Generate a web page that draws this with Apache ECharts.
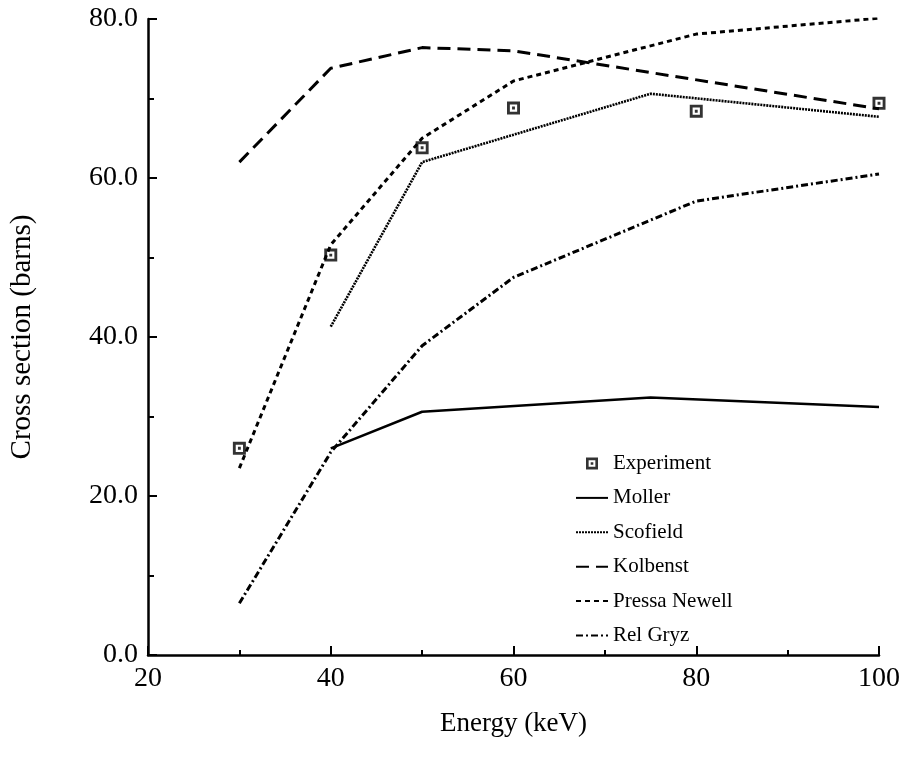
<!DOCTYPE html>
<html>
<head>
<meta charset="utf-8">
<script src="https://cdn.jsdelivr.net/npm/echarts@6/dist/echarts.min.js"></script>
<style>
  html, body { margin: 0; padding: 0; background: #fff; }
  #chart { width: 903px; height: 760px; }
</style>
</head>
<body>
<div id="chart"></div>
<script>
// data: [energy keV, cross section barns]
var experiment = [[30, 26.0], [40, 50.3], [50, 63.8], [60, 68.8], [80, 68.4], [100, 69.4]];
var moller = [[40, 26.0], [50, 30.6], [75, 32.4], [100, 31.2]];
var scofield = [[40, 41.3], [50, 62.0], [75, 70.6], [100, 67.7]];
var kolbenst = [[30, 62.0], [40, 73.8], [50, 76.4], [60, 76.0], [100, 68.7]];
var pressaNewell = [[30, 23.5], [40, 51.6], [50, 65.0], [60, 72.2], [80, 78.1], [100, 80.1]];
var relGryz = [[30, 6.5], [40, 25.5], [50, 38.9], [60, 47.5], [80, 57.1], [100, 60.5]];

var serif = '"Liberation Serif", "DejaVu Serif", serif';

var myChart = echarts.init(document.getElementById('chart'));

// square with a hole and a dot in the middle
var boxDot = 'path://M0,0 L10,0 L10,10 L0,10 Z M2.2,2.2 L2.2,7.8 L7.8,7.8 L7.8,2.2 Z M3.9,3.9 L6.1,3.9 L6.1,6.1 L3.9,6.1 Z';

function lineSeries(name, data, type, width) {
    return {
        name: name,
        type: 'line',
        data: data,
        symbol: 'none',
        lineStyle: { color: '#000', width: width, type: type },
        itemStyle: { color: '#000' },
        z: 2
    };
}

// legend entry for a line: hide the symbol, keep the line sample
function lineLegend(name) {
    return { name: name, itemStyle: { color: 'rgba(0,0,0,0)', borderColor: 'rgba(0,0,0,0)', borderWidth: 0 } };
}

var option = {
    animation: false,
    backgroundColor: '#fff',
    textStyle: { fontFamily: serif, color: '#000' },
    grid: { left: 147, right: 23, top: 19, bottom: 105 },
    legend: {
        orient: 'vertical',
        left: 570,
        top: 448,
        itemWidth: 32,
        itemHeight: 12,
        itemGap: 13.4,
        textStyle: { fontFamily: serif, fontSize: 21, color: '#000' },
        data: [
            { name: 'Experiment' },
            lineLegend('Moller'),
            lineLegend('Scofield'),
            lineLegend('Kolbenst'),
            lineLegend('Pressa Newell'),
            lineLegend('Rel Gryz')
        ]
    },
    xAxis: {
        type: 'value',
        min: 20,
        max: 100,
        interval: 20,
        name: 'Energy (keV)',
        nameLocation: 'middle',
        nameGap: 55,
        nameTextStyle: { fontFamily: serif, fontSize: 27, color: '#000' },
        axisLine: { lineStyle: { color: '#000', width: 2.5 } },
        axisTick: { inside: true, length: 9, lineStyle: { color: '#000', width: 2 } },
        minorTick: { show: true, splitNumber: 2, length: 5, lineStyle: { color: '#000', width: 2 } },
        splitLine: { show: false },
        axisLabel: { fontFamily: serif, fontSize: 28, color: '#000', margin: 10 }
    },
    yAxis: {
        type: 'value',
        min: 0,
        max: 80,
        interval: 20,
        name: 'Cross section (barns)',
        nameLocation: 'middle',
        nameGap: 111,
        nameTextStyle: { fontFamily: serif, fontSize: 29, color: '#000' },
        axisLine: { lineStyle: { color: '#000', width: 2.5 } },
        axisTick: { inside: true, length: 9, lineStyle: { color: '#000', width: 2 } },
        minorTick: { show: true, splitNumber: 2, length: 6, lineStyle: { color: '#000', width: 2 } },
        splitLine: { show: false },
        axisLabel: {
            fontFamily: serif, fontSize: 28, color: '#000', margin: 10,
            formatter: function (v) { return v.toFixed(1); }
        }
    },
    series: [
        {
            name: 'Experiment',
            type: 'scatter',
            data: experiment,
            symbol: boxDot,
            symbolSize: 13,
            itemStyle: { color: '#000' },
            z: 5
        },
        lineSeries('Moller', moller, 'solid', 2.5),
        lineSeries('Scofield', scofield, [2, 1], 2.6),
        lineSeries('Kolbenst', kolbenst, [13, 7], 3),
        lineSeries('Pressa Newell', pressaNewell, [5, 4], 3),
        lineSeries('Rel Gryz', relGryz, [7, 3, 2, 3], 3)
    ]
};

myChart.setOption(option);
</script>
</body>
</html>
